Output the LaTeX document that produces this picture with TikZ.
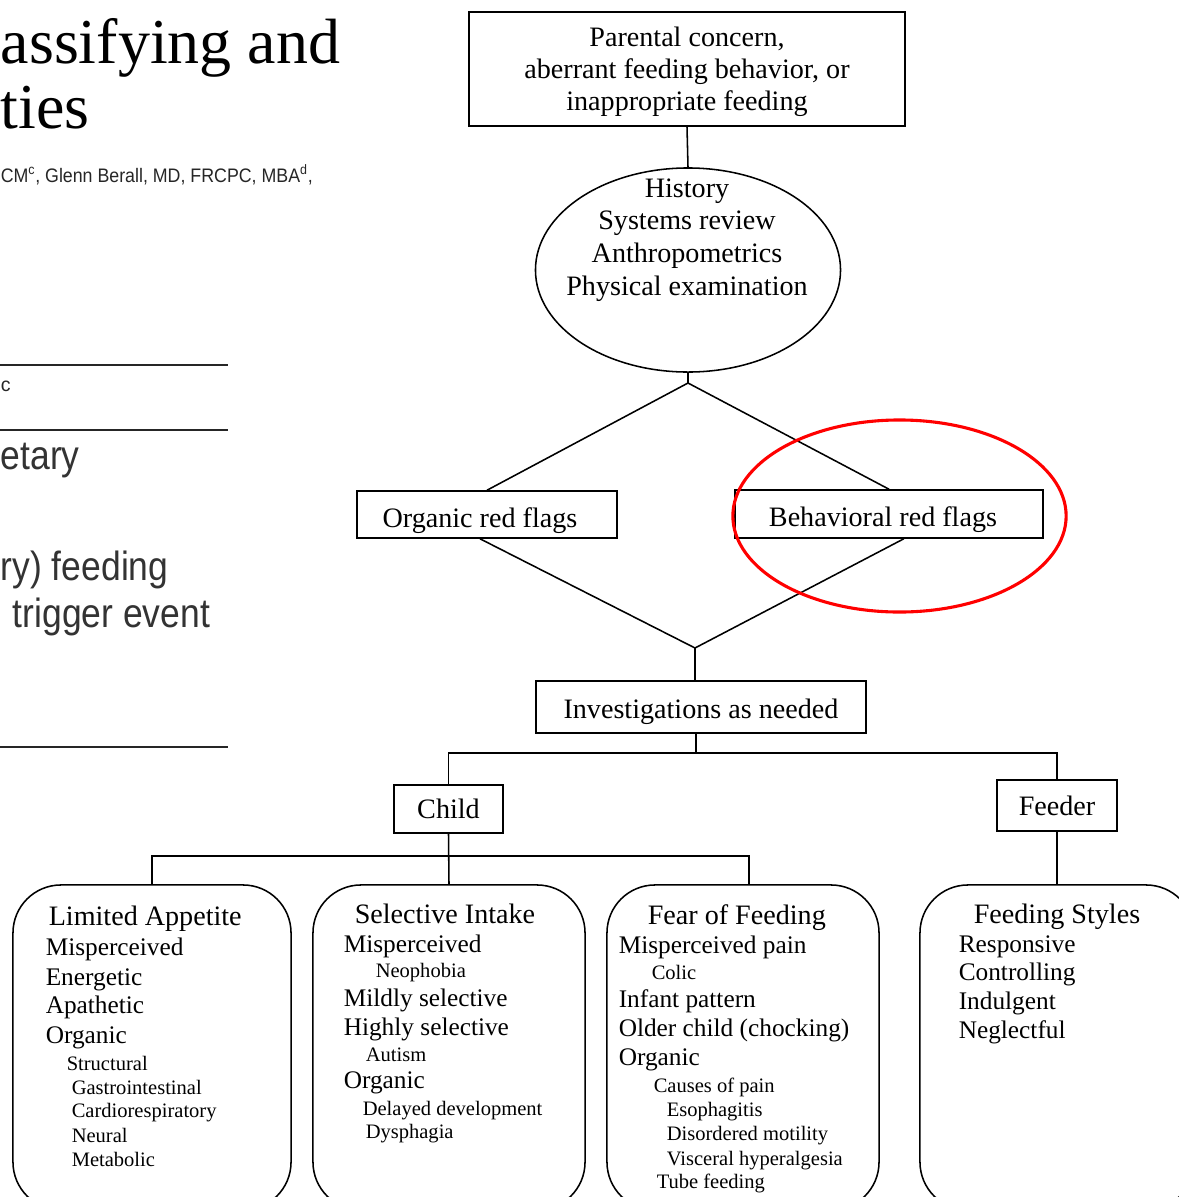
\documentclass[tikz,border=0pt]{standalone}
\usepackage{graphicx}
\usepackage{fontspec}
\setmainfont{Liberation Serif}
\newfontfamily\sansf{Liberation Sans}
\usetikzlibrary{shapes.geometric}

\newcommand\headf{\fontsize{20}{22}\selectfont}
\newcommand\itemf{\fontsize{18}{20}\selectfont}
\newcommand\subf{\fontsize{14.6}{16}\selectfont}
\newcommand\narrow[2]{\scalebox{#1}[1]{#2}}
\newcommand\dropby[2]{\raisebox{-#1}[\height][\depth]{#2}}

\begin{document}
\begin{tikzpicture}[x=0.025cm, y=-0.025cm, line width=1.1pt,
    every node/.style={inner sep=0pt},
    flowbox/.style={draw, rectangle, align=center, font=\fontsize{20}{22.7}\selectfont},
    catbox/.style={draw, rectangle, rounded corners=1.2cm, minimum height=8.125cm},
    listline/.style={anchor=base west},
    pagetext/.style={anchor=base west, font=\sansf\fontsize{29}{32}\selectfont, text=black!80},
    redmark/.style={draw=red, ellipse, line width=2.2pt},
    pagerule/.style={draw=black!85, line width=1.6pt}
  ]
    \useasboundingbox (0,0) rectangle (1178,1197);

    \node[anchor=base west, font=\fontsize{45.5}{50}\selectfont] (title1) at (0,63) {assifying and};
    \node[anchor=base west, font=\fontsize{45.5}{50}\selectfont] (title2) at (0,128) {ties};
    \node[anchor=base west, font=\sansf\fontsize{13.9}{15}\selectfont, text=black!85] (authors) at (0,182)
        {\narrow{0.91}{CM\textsuperscript{c}, Glenn Berall, MD, FRCPC, MBA\textsuperscript{d},}};
    \draw[pagerule] (0,365) -- (228,365);
    \draw[pagerule] (0,430) -- (228,430);
    \draw[pagerule] (0,747) -- (228,747);
    \node[anchor=base west, font=\sansf\fontsize{13.9}{15}\selectfont, text=black!85] (tabc) at (0,391) {c};
    \node[pagetext] (frag1) at (0,469) {\narrow{0.87}{etary}};
    \node[pagetext] (frag2) at (0,580) {\narrow{0.87}{ry) feeding}};
    \node[pagetext] (frag3) at (12,627) {\narrow{0.87}{trigger event}};

    \node[flowbox, text depth=0pt, minimum width=10.9cm, minimum height=2.85cm] (concern) at (687,69)
        {Parental concern,\\ aberrant feeding behavior, or\\ inappropriate feeding};
    \node[draw, ellipse, minimum width=7.625cm, minimum height=5.1cm] (exam) at (688,270) {};
    \node[align=center, font=\fontsize{20}{23.2}\selectfont] (examtext) at (687,240)
        {History\\ Systems review\\ Anthropometrics\\ Physical examination};
    \draw (concern.south) -- (exam.north);

    \coordinate (dtop) at (688,383);
    \coordinate (dbot) at (695,648);
    \node[flowbox, minimum width=6.5cm, minimum height=1.175cm] (organic)
        at (487,514.5) {\dropby{0.15cm}{\hspace{-0.35cm}Organic red flags}};
    \node[flowbox, minimum width=7.7cm, minimum height=1.2cm] (behav)
        at (889,514) {\dropby{0.15cm}{\hspace{-0.3cm}Behavioral red flags}};
    \draw (exam.south) -- (dtop);
    \draw (organic.north) -- (dtop) -- (behav.north);
    \draw ([xshift=-0.175cm]organic.south) -- (dbot) -- ([xshift=0.37cm]behav.south);

    \node[flowbox, minimum width=8.25cm, minimum height=1.3cm] (invest)
        at (701,707) {\dropby{0.12cm}{Investigations as needed}};
    \draw (dbot) -- (dbot |- invest.north);

    \coordinate (split1) at (696,753);
    \node[flowbox, minimum width=2.725cm, minimum height=1.2cm] (child) at (448.5,809) {Child};
    \node[flowbox, minimum width=3cm, minimum height=1.275cm] (feeder) at (1057,805.5) {Feeder};
    \draw (split1 |- invest.south) -- (split1);
    \draw (child.north) |- (split1) -| (feeder.north);

    \node[catbox, minimum width=6.95cm] (limited) at (152,1047.5) {};
    \node[catbox, minimum width=6.8cm] (selective) at (449,1047.5) {};
    \node[catbox, minimum width=6.8cm] (fear) at (743,1047.5) {};
    \node[catbox, minimum width=6.85cm] (styles) at (1057,1047.5) {};

    \coordinate (split2) at (449,856);
    \draw (child.south) -- (selective.north);
    \draw (limited.north) |- (split2) -| ([xshift=0.15cm]fear.north);
    \draw (feeder.south) -- (styles.north);

    \foreach \x/\y/\t [count=\i] in {48/925/\headf Limited Appetite, 45/955/\itemf Misperceived,
        45/985/\itemf Energetic, 45/1013/\itemf Apathetic, 45/1043/\itemf Organic,
        66/1070/\subf Structural, 71/1094/\subf Gastrointestinal, 71/1117/\subf Cardiorespiratory,
        71/1142/\subf Neural, 71/1166/\subf Metabolic}
        \node[listline] (la\i) at (\x,\y) {\t};

    \foreach \x/\y/\t [count=\i] in {354/923/\headf Selective Intake, 343/952/\itemf Misperceived,
        375/977/\subf Neophobia, 343/1006/\itemf Mildly selective, 343/1035/\itemf Highly selective,
        365/1061/\subf Autism, 343/1088/\itemf Organic, 362/1115/\subf Delayed development,
        365/1138/\subf Dysphagia}
        \node[listline] (si\i) at (\x,\y) {\t};

    \foreach \x/\y/\t [count=\i] in {647/924/\headf Fear of Feeding, 618/953/\itemf Misperceived pain,
        651/979/\subf Colic, 618/1007/\itemf Infant pattern, 618/1036/\itemf Older child (chocking),
        618/1065/\itemf Organic, 653/1092/\subf Causes of pain, 666/1116/\subf Esophagitis,
        666/1140/\subf Disordered motility, 666/1165/\subf Visceral hyperalgesia,
        656/1188/\subf Tube feeding}
        \node[listline] (ff\i) at (\x,\y) {\t};

    \foreach \x/\y/\t [count=\i] in {973/923/\headf Feeding Styles, 958/952/\itemf Responsive,
        958/980/\itemf Controlling, 958/1009/\itemf Indulgent, 958/1038/\itemf Neglectful}
        \node[listline] (fs\i) at (\x,\y) {\t};

    \node[redmark, minimum width=8.33cm, minimum height=4.8cm] (mark) at (899.5,516) {};
\end{tikzpicture}
\end{document}
